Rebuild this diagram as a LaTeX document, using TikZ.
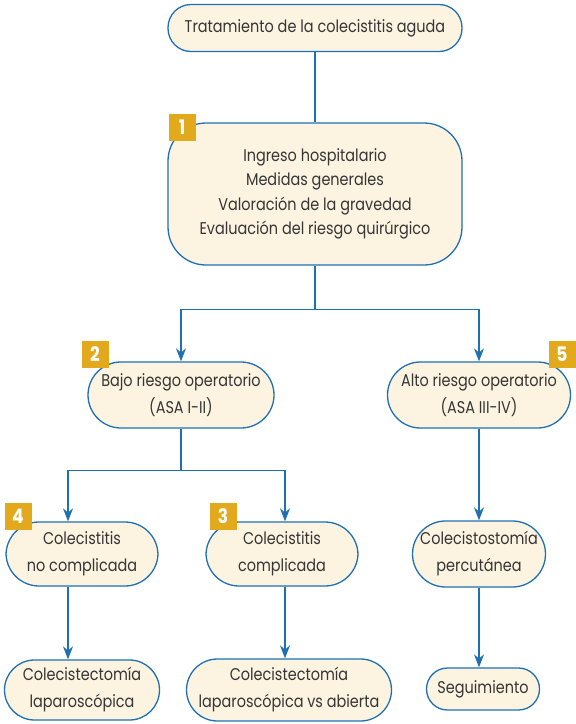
\documentclass[tikz,border=0pt]{standalone}
\usepackage{fontspec}
\setmainfont[FakeStretch=0.85]{Poppins}
\usetikzlibrary{arrows.meta,positioning}
\definecolor{linecol}{HTML}{1F70B2}
\definecolor{boxfill}{HTML}{FCF3E0}
\definecolor{badgecol}{HTML}{E3A91C}
\definecolor{textcol}{HTML}{363636}
\tikzset{x=1pt,y=-1pt,
  box/.style={ % rounded boxes of the chart
    draw=linecol,
    fill=boxfill,
    line width=1.3pt,
    rounded corners=33pt,
    align=center,
    inner sep=0pt,
    text=textcol,
    font=\fontsize{17}{27}\selectfont},
  badge/.style={ % numbered yellow squares
    fill=badgecol,
    text=white,
    inner sep=0pt,
    minimum size=27pt,
    font=\fontsize{20}{20}\selectfont\bfseries},
  arr/.style={
    draw=linecol,
    line width=1.3pt,
    -{Stealth[length=13pt,width=10pt]}},
  con/.style={
    draw=linecol,
    line width=1.3pt}}

\begin{document}
\begin{tikzpicture}
    \useasboundingbox (0,0) rectangle (576,724);
    \node[box,minimum width=294pt,minimum height=47pt,rounded corners=23pt] (start) at (315,28) {Tratamiento de la colecistitis aguda};
    \node[box,minimum width=294pt,minimum height=142pt,rounded corners=38pt,font=\fontsize{17}{24.5}\selectfont] (ingreso) at (315,194) {Ingreso hospitalario\\Medidas generales\\Valoraci\'on de la gravedad\\Evaluaci\'on del riesgo quir\'urgico};
    \node[box,minimum width=186pt,minimum height=66pt] (bajo) at (181,395) {Bajo riesgo operatorio\\(ASA I-II)};
    \node[box,minimum width=183pt,minimum height=66pt] (alto) at (479,395) {Alto riesgo operatorio\\(ASA III-IV)};
    \node[box,minimum width=152pt,minimum height=64pt] (nocomp) at (82,554) {Colecistitis\\no complicada};
    \node[box,minimum width=152pt,minimum height=64pt] (comp) at (282,554) {Colecistitis\\complicada};
    \node[box,minimum width=133pt,minimum height=66pt] (percut) at (479,554) {Colecistostom\'ia\\percut\'anea};
    \node[box,minimum width=155pt,minimum height=60pt,rounded corners=30pt] (lapa) at (82,690) {Colecistectom\'ia\\laparosc\'opica};
    \node[box,minimum width=205pt,minimum height=62pt,rounded corners=31pt] (abierta) at (289,690) {Colecistectom\'ia\\laparosc\'opica vs abierta};
    \node[box,minimum width=113pt,minimum height=42pt,rounded corners=21pt] (segui) at (483,689) {Seguimiento};
    % numbers
    \node[badge] (b1) at (182,127) {1};
    \node[badge] (b2) at (95,354) {2};
    \node[badge] (b3) at (223,516) {3};
    \node[badge] (b4) at (18,516) {4};
    \node[badge] (b5) at (562,354) {5};
    % connectors
    \draw[con] (start) -- (ingreso);
    \draw[con] (ingreso.south) -- ++(0,44) coordinate (split1);
    \draw[arr] (split1) -| (bajo.north);
    \draw[arr] (split1) -| (alto.north);
    \draw[con] (bajo.south) -- ++(0,42) coordinate (split2);
    \draw[arr] (split2) -| ([xshift=-14pt]nocomp.north);
    \draw[arr] (split2) -| ([xshift=3pt]comp.north);
    \draw[arr] ([xshift=-14pt]nocomp.south) -- ([xshift=-14pt]nocomp.south |- lapa.north);
    \draw[arr] ([xshift=3pt]comp.south) -- ([xshift=3pt]comp.south |- abierta.north);
    \draw[arr] (alto) -- (percut);
    \draw[arr] (percut.south) -- (percut.south |- segui.north);
\end{tikzpicture}
\end{document}
